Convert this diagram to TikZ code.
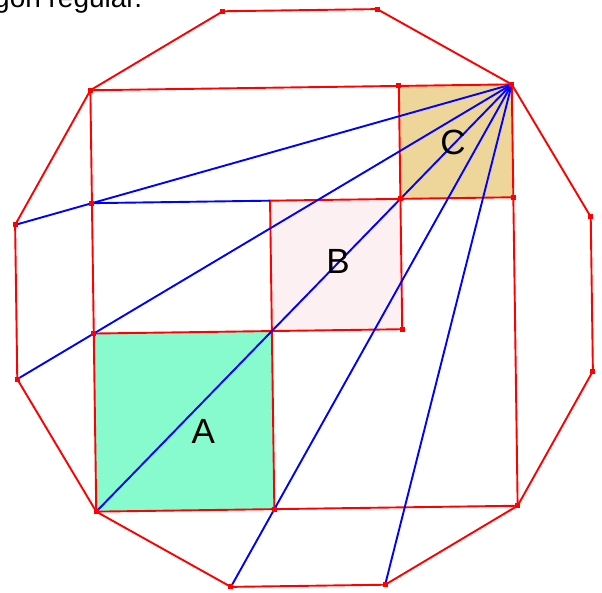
\documentclass[tikz,border=0pt]{standalone}
\usepackage{fontspec}
\setmainfont{Liberation Sans}
\definecolor{afill}{RGB}{135,251,206}
\definecolor{bfill}{RGB}{253,240,243}
\definecolor{cfill}{RGB}{238,213,154}
\begin{document}
\begin{tikzpicture}[x=1pt,y=1pt,
  redline/.style={draw=red, line width=1.9pt, line join=round},
  blueline/.style={draw=blue, line width=1.9pt},
  ptmark/.style={rectangle, fill=red, minimum size=5pt, inner sep=0pt},
  lbl/.style={font=\fontsize{35}{40}\selectfont, inner sep=0pt}]
\useasboundingbox (0,0) rectangle (602,592);
\begin{scope}[shift={(304,294)}, rotate=0.8]
  \foreach \k in {1,...,12} \coordinate (v\k) at ({105-30*(\k-1)}:298);
  \coordinate (pA1) at (-210.72,-32.60);
  \coordinate (pA2) at (-32.60,-210.72);
  \coordinate (pAB) at (-32.60,-32.60);
  \coordinate (pL) at (-210.72,97.79);
  \coordinate (pBtl) at (-32.60,97.79);
  \coordinate (pBC) at (97.79,97.79);
  \coordinate (pBbr) at (97.79,-32.60);
  \coordinate (pCtl) at (97.79,210.72);
  \coordinate (pCbr) at (210.72,97.79);
\end{scope}
% fills
\fill[afill] (v9) -- (pA2) -- (pAB) -- (pA1) -- cycle;
\fill[bfill] (pAB) -- (pBbr) -- (pBC) -- (pBtl) -- cycle;
\fill[cfill] (pBC) -- (pCbr) -- (v3) -- (pCtl) -- cycle;
% red lines
\draw[redline] (v1) -- (v2) -- (v3) -- (v4) -- (v5) -- (v6) -- (v7) -- (v8) -- (v9) -- (v10) -- (v11) -- (v12) -- cycle;
\draw[redline] (v12) -- (v3) -- (v6) -- (v9) -- cycle;
\draw[redline] (pA1) -- (pAB) -- (pA2);
\draw[redline] (pAB) -- (pBbr) -- (pBC) -- (pBtl) -- cycle;
\draw[redline] (pCtl) -- (pBC) -- (pCbr);
% blue lines
\foreach \j in {7,8,9,10,11} \draw[blueline] (v3) -- (v\j);
\draw[blueline] (pL) -- (pBtl);
% marks
\foreach \k in {1,...,12} \node[ptmark] (m\k) at (v\k) {};
\foreach \p in {pL,pA1,pA2,pCtl,pCbr,pBC,pBbr} \node[ptmark] (m\p) at (\p) {};
% labels
\node[lbl] (la) at (203.4,161) {A};
\node[lbl] (lb) at (338,331) {B};
\node[lbl] (lc) at (453,449.5) {C};
\node[anchor=base west, font=\fontsize{28}{31}\selectfont, inner sep=0pt] (title) at (-6,584) {gon regular.};
\end{tikzpicture}
\end{document}
